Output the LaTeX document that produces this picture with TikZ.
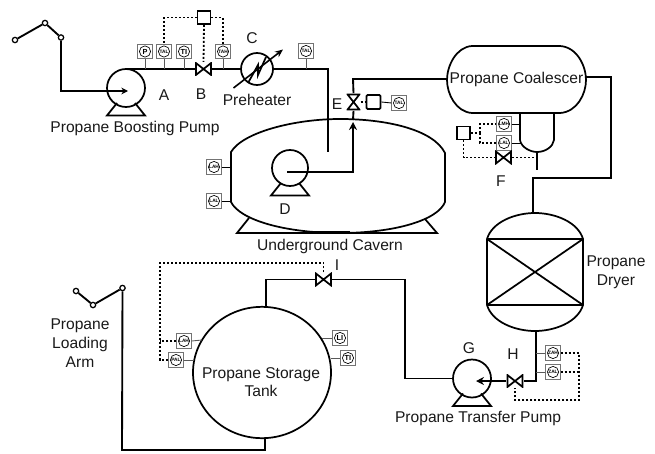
\documentclass[tikz,border=0pt]{standalone}
\usepackage{fontspec}
\setmainfont{Liberation Sans}
\usetikzlibrary{arrows.meta,calc,shapes.geometric}
\tikzset{
  x=0.75pt,y=-0.75pt,
  pipe/.style={line width=1.4pt,black,line join=miter},
  vessel/.style={line width=1.3pt,black},
  thinpipe/.style={line width=0.65pt,black!65},
  signal/.style={line width=1.35pt,black,dash pattern=on 1.5pt off 1.5pt},
  lab/.style={font=\fontsize{11.7}{14}\selectfont,text=black!90,inner sep=0pt,align=center},
  inst/.style={draw=black!55,line width=0.8pt,fill=white,minimum size=10.6pt,inner sep=0pt,
    font=\fontsize{3.6}{4}\selectfont\bfseries,
    path picture={\draw[black,line width=0.5pt] (path picture bounding box.center) circle (5.6);}},
  ctrl/.style={draw=black,line width=1.3pt,fill=white,minimum size=9.6pt,inner sep=0pt},
  pumpbody/.style={circle,draw=black,line width=1.3pt,fill=white,minimum size=28.5pt,inner sep=0pt},
  armjoint/.style={circle,draw=black,line width=0.95pt,fill=white,minimum size=4pt,inner sep=0pt},
  valveh/.style={minimum width=12.8pt,minimum height=10.4pt,inner sep=0pt,fill=white,
    path picture={\draw[black,line width=1.3pt]
      ($(path picture bounding box.south west)+(1,-1)$) -- ($(path picture bounding box.north east)+(-1,1)$)
      -- ($(path picture bounding box.south east)+(-1,-1)$) -- ($(path picture bounding box.north west)+(1,1)$) -- cycle;}},
  valvev/.style={minimum width=10.4pt,minimum height=12.8pt,inner sep=0pt,fill=white,
    path picture={\draw[black,line width=1.3pt]
      ($(path picture bounding box.south west)+(1,-1)$) -- ($(path picture bounding box.north east)+(-1,1)$)
      -- ($(path picture bounding box.north west)+(1,1)$) -- ($(path picture bounding box.south east)+(-1,-1)$) -- cycle;}},
}
\newcommand{\pumpbase}[1]{\draw[vessel] ($(#1)+(-9,15)$) -- ($(#1)+(-19,27.5)$) -- ($(#1)+(19,27.5)$) -- ($(#1)+(9,15)$);}
\begin{document}
\begin{tikzpicture}
\useasboundingbox (0,0) rectangle (655,453);

% ---- loading arm 1, pump A
\node[armjoint] (arma) at (15,40) {};
\node[armjoint] (armb) at (45,23) {};
\node[armjoint] (armc) at (61,37.5) {};
\draw[pipe] (arma) -- (armb) -- (armc);
\coordinate (ain) at (128,91);
\coordinate (aout) at (125,69);
\coordinate (elbowin) at (61,91);
\node[pumpbody] (pumpA) at (126,88) {};
\pumpbase{pumpA}
\draw[pipe,-{Stealth[length=5pt,width=5pt]}] (armc) -- (elbowin) -- (ain);

% ---- header line
\node[valveh] (B) at (203.5,69) {};
\node[circle,draw=black,line width=1.3pt,fill=white,minimum size=24pt,inner sep=0pt] (C) at (257,69) {};
\coordinate (hcorner) at (328,69);
\coordinate (hend) at (328,152);
\draw[pipe] (aout) -- (B.west);
\draw[pipe] (B.east) -- (C.west);
\draw[pipe] (C.east) -- (hcorner) -- (hend);
\draw[vessel,line join=miter] (248,83) -- (258,65) -- (258,75) -- (266,57);
\coordinate (hta) at (233.5,88);
\coordinate (htb) at (283,49.5);
\draw[pipe,line width=1.2pt,-{Stealth[length=6pt,width=5pt]}] (hta) -- (htb);

\node[inst] (iP) at (145,51.5) {\fontsize{5.5}{6}\selectfont P};
\node[inst] (iTAL) at (164,51.5) {TAL};
\node[inst] (iTI) at (184,51.5) {\fontsize{5.5}{6}\selectfont TI};
\node[inst] (iTAH) at (223,51.5) {TAH};
\node[inst] (iTALb) at (306,51) {TAL};
\foreach \n in {iP,iTAL,iTI,iTAH,iTALb} \draw[thinpipe] (\n.south) -- (\n.south |- hcorner);
\node[ctrl] (ctlB) at (204,17.5) {};
\draw[signal] (ctlB.west) -| (iTAL.north);
\draw[signal] (ctlB.east) -| (iTAH.north);
\draw[signal] (ctlB.south) -- (B.north);

% ---- cavern
\draw[vessel] (231,152) .. controls (243,132) and (295,119) .. (340,119)
  .. controls (385,119) and (433,129) .. (445,153) -- (445,202)
  .. controls (438,220) and (395,233) .. (340,233)
  .. controls (285,233) and (240,220) .. (231,202) -- cycle;
\node[minimum width=160.5pt,minimum height=85.5pt,inner sep=0pt] (cavern) at (338,176) {};
\draw[vessel] (249,218) -- (237,233) -- (437,233) -- (425,219);
\draw[line width=2pt] (312,232.6) -- (350,232.6);
\node[pumpbody,minimum size=27pt] (pumpD) at (290,168) {};
\pumpbase{pumpD}
\coordinate (dstart) at (287,172);
\coordinate (dcorner) at (353,172);
\coordinate (dtip) at (353,122);
\coordinate (ebelow) at (353,120);
\draw[pipe,-{Stealth[length=6pt,width=6pt]}] (dstart) -- (dcorner) -- (dtip);
\node[inst] (iCa) at (214,167) {LAH};
\node[inst] (iCb) at (214,201) {LAL};
\draw[thinpipe,black] (iCa.east) -- (iCa.east -| cavern.west);
\draw[thinpipe,black] (iCb.east) -- (iCb.east -| cavern.west);

% ---- valve E
\node[valvev] (E) at (353.5,102) {};
\node[ctrl,minimum size=10.6pt,rounded corners=1pt] (ctlE) at (373.5,102) {};
\node[inst] (iE) at (399,103) {TAL};
\draw[pipe] (E.south) -- (ebelow);
\draw[signal] (E.east) -- (ctlE.west);
\draw[thinpipe,black] (ctlE.east) -- (iE.west);

% ---- coalescer
\draw[vessel] (472,46) -- (560,46) .. controls (577,47) and (586,66) .. (586,80)
  .. controls (586,94) and (577,112) .. (560,113) -- (472,113)
  .. controls (456,112) and (447,94) .. (447,80) .. controls (447,66) and (456,47) .. (472,46) -- cycle;
\node[lab,minimum width=104pt,minimum height=50pt] (coal) at (516.5,79.5) {Propane Coalescer};
\coordinate (ecorner) at (353,79);
\draw[pipe] (E.north) -- (ecorner) -- (ecorner -| coal.west);
\draw[vessel] (520,113) -- (520,140) .. controls (521,147) and (530,152) .. (537,152)
  .. controls (545,152) and (553,147) .. (554,140) -- (554,113);
\coordinate (bootb) at (537,152);
\coordinate (boote) at (537,170);
\draw[pipe,line width=1.1pt] (bootb) -- (boote);

% ---- F group
\node[inst] (iFa) at (504,124) {LMH};
\node[inst] (iFb) at (504,143) {LAL};
\node[ctrl,fill=white] (ctlF) at (463.5,133) {};
\node[valveh] (F) at (503.5,157.5) {};
\coordinate (sa) at (520,124);
\coordinate (sb) at (521,143);
\draw[thinpipe,black] (iFa.east) -- (sa);
\draw[thinpipe,black] (iFb.east) -- (sb);
\coordinate (sj) at (480,133);
\draw[signal] (ctlF.east) -- (sj);
\draw[signal] (sj) |- (iFa.west);
\draw[signal] (sj) |- (iFb.west);
\draw[signal] (ctlF.south) |- (F.west);
\draw[signal] (F.east) -- (F.east -| boote);

% ---- dryer
\draw[vessel] (487,239) .. controls (492,222) and (515,213) .. (535,213)
  .. controls (555,213) and (578,222) .. (583,239) -- (583,305)
  .. controls (578,322) and (555,331) .. (535,331)
  .. controls (515,331) and (492,322) .. (487,305) -- cycle;
\draw[vessel] (487,239) -- (583,239) (487,305) -- (583,305) (487,239) -- (583,305) (487,305) -- (583,239);
\node[minimum width=72pt,minimum height=88.5pt,inner sep=0pt] (dryer) at (535,272) {};
\coordinate (cright) at (586,77);
\coordinate (c1) at (611,77);
\coordinate (c2) at (611,178);
\coordinate (c3) at (533,178);
\coordinate (c4) at (533,213);
\draw[pipe] (cright) -- (c1) -- (c2) -- (c3) -- (c4);

% ---- H, G
\node[valveh] (H) at (515,381) {};
\node[pumpbody] (pumpG) at (472,378.5) {};
\pumpbase{pumpG}
\coordinate (gtip) at (476,381);
\coordinate (dryb) at (536,331);
\coordinate (hcor) at (536,381);
\draw[pipe] (dryb) -- (hcor) -- (H.east);
\draw[pipe,-{Stealth[length=6pt,width=6pt]}] (H.west) -- (gtip);
\node[inst] (iHa) at (553,353) {ZAH};
\node[inst] (iHb) at (553,372) {ZAL};
\draw[thinpipe] (iHa.west) -- (iHa.west -| hcor);
\draw[thinpipe] (iHb.west) -- (iHb.west -| hcor);
\coordinate (r1) at (579,353);
\coordinate (r2) at (579,400);
\coordinate (r3) at (515,400);
\draw[signal] (iHa.east) -- (r1) -- (r2) -- (r3) -- (H.south);
\draw[signal] (iHb.east) -- (iHb.east -| r1);

% ---- tank
\node[ellipse,draw=black,line width=1.3pt,minimum width=103.5pt,minimum height=98.5pt,inner sep=0pt] (tank) at (262,372.5) {};
\node[valveh] (I) at (323.5,279.5) {};
\coordinate (tanktop) at (266,307.5);
\coordinate (tankbot) at (265,438);
\coordinate (ileft) at (266,279.5);
\coordinate (iright) at (405,279.5);
\coordinate (gcorner) at (405,378.5);
\draw[pipe] (tanktop) -- (ileft) -- (I.west);
\draw[pipe] (I.east) -- (iright) -- (gcorner) -- (pumpG.west);
\node[armjoint] (armd) at (76,291) {};
\node[armjoint] (arme) at (93,305) {};
\node[armjoint] (armf) at (122.5,288) {};
\draw[pipe] (armd) -- (arme) -- (armf);
\coordinate (b1) at (122,450);
\coordinate (b2) at (265,450);
\draw[pipe] (armf) -- (b1) -- (b2) -- (tankbot);
\node[inst] (iTa) at (184,341) {LAH};
\node[inst] (iTb) at (176,360) {PAL};
\node[inst] (iTc) at (340,338) {\fontsize{5.5}{6}\selectfont LI};
\node[inst] (iTd) at (348,358) {\fontsize{5.5}{6}\selectfont TI};
\coordinate (t1) at (202,340);
\coordinate (t2) at (194,360);
\coordinate (t3) at (322,338);
\coordinate (t4) at (331,358);
\draw[thinpipe] (iTa.east) -- (t1);
\draw[thinpipe] (iTb.east) -- (t2);
\draw[thinpipe] (iTc.west) -- (t3);
\draw[thinpipe] (iTd.west) -- (t4);
\coordinate (u1) at (323.5,263);
\coordinate (u2) at (160,263);
\coordinate (u3) at (160,360);
\draw[signal] (I.north) -- (u1) -- (u2) -- (u3) -- (iTb.west);
\draw[signal] (iTa.west) -- (iTa.west -| u2);

% ---- labels
\node[lab] (tBoost) at (135,128) {Propane Boosting Pump};
\node[lab] (tA) at (164,95) {A};
\node[lab] (tB) at (201,94) {B};
\node[lab] (tC) at (252,38) {C};
\node[lab] (tPre) at (257,99.5) {Preheater};
\node[lab] (tD) at (285,209.5) {D};
\node[lab] (tE) at (337,104) {E};
\node[lab] (tF) at (501,181) {F};
\node[lab] (tG) at (469,348) {G};
\node[lab] (tH) at (513,354) {H};
\node[lab] (tI) at (337,265) {I};
\node[lab] (tCav) at (330,246) {Underground Cavern};
\node[lab] (tDry) at (616,272) {Propane\\Dryer};
\node[lab] (tArm) at (80,343) {Propane\\Loading\\Arm};
\node[lab] (tTank) at (261,382) {Propane Storage\\Tank};
\node[lab] (tTrans) at (478,418) {Propane Transfer Pump};
\end{tikzpicture}
\end{document}
